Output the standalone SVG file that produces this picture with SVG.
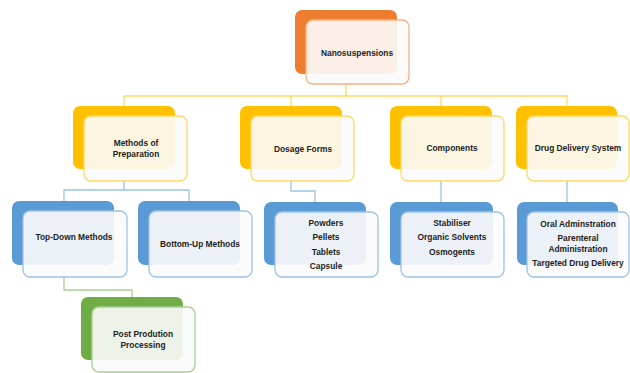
<svg xmlns="http://www.w3.org/2000/svg" width="630" height="373" viewBox="0 0 630 373">
<style>
text{font-family:"Liberation Sans",Arial,sans-serif;font-weight:bold;font-size:8.4px;fill:#1e1e1e;text-anchor:middle}
.front{fill:#fbfbfb;fill-opacity:0.9;stroke-width:1.3}
.o .back{fill:#ED7D31}.o .front{stroke:#F4B183}
.y .back{fill:#FFC000}.y .front{stroke:#FFD966}
.b .back{fill:#5B9BD5}.b .front{stroke:#9DC3E6}
.g .back{fill:#70AD47}.g .front{stroke:#A9D18E}
.c{fill:none;stroke-width:1.3}
</style>
<g id="connectors">
<path class="c" stroke="#FFD966" d="M346 84V96M124 116V96H567V116M291 96V116M441 96V116"/>
<path class="c" stroke="#9DC3E6" d="M124 181V190M64 201V190H189V201M291 181V191H315V202M441 181V202M567 181V202"/>
<path class="c" stroke="#A9D18E" d="M64 277V290H132V297"/>
</g>
<g id="nanosuspensions" class="o">
<rect class="back" x="295" y="10" width="102" height="64" rx="7"/>
<rect class="front" x="306" y="20" width="103" height="64" rx="7"/>
<text x="357" y="56">Nanosuspensions</text>
</g>
<g id="methods" class="y">
<rect class="back" x="73" y="106" width="102" height="63" rx="7"/>
<rect class="front" x="84" y="116" width="103" height="65" rx="7"/>
<text x="136" y="146">Methods of</text>
<text x="136" y="157">Preparation</text>
</g>
<g id="dosage" class="y">
<rect class="back" x="240" y="106" width="102" height="63" rx="7"/>
<rect class="front" x="251" y="116" width="103" height="65" rx="7"/>
<text x="303" y="152">Dosage Forms</text>
</g>
<g id="components" class="y">
<rect class="back" x="390" y="106" width="102" height="63" rx="7"/>
<rect class="front" x="401" y="116" width="103" height="65" rx="7"/>
<text x="452" y="151">Components</text>
</g>
<g id="dds" class="y">
<rect class="back" x="516" y="106" width="101" height="63" rx="7"/>
<rect class="front" x="527" y="116" width="102" height="65" rx="7"/>
<text x="578" y="151">Drug Delivery System</text>
</g>
<g id="topdown" class="b">
<rect class="back" x="12" y="201" width="102" height="64" rx="7"/>
<rect class="front" x="23" y="211" width="104" height="66" rx="7"/>
<text x="74" y="240">Top-Down Methods</text>
</g>
<g id="bottomup" class="b">
<rect class="back" x="138" y="201" width="102" height="64" rx="7"/>
<rect class="front" x="149" y="211" width="103" height="66" rx="7"/>
<text x="200" y="247">Bottom-Up Methods</text>
</g>
<g id="forms" class="b">
<rect class="back" x="264" y="202" width="102" height="63" rx="7"/>
<rect class="front" x="275" y="212" width="103" height="65" rx="7"/>
<text x="326" y="226">Powders</text>
<text x="326" y="240">Pellets</text>
<text x="326" y="255">Tablets</text>
<text x="326" y="269">Capsule</text>
</g>
<g id="comps" class="b">
<rect class="back" x="390" y="202" width="103" height="63" rx="7"/>
<rect class="front" x="401" y="212" width="103" height="65" rx="7"/>
<text x="452" y="226">Stabiliser</text>
<text x="452" y="240">Organic Solvents</text>
<text x="452" y="255">Osmogents</text>
</g>
<g id="routes" class="b">
<rect class="back" x="517" y="202" width="101" height="63" rx="7"/>
<rect class="front" x="527" y="212" width="102" height="65" rx="7"/>
<text x="578" y="227">Oral Adminstration</text>
<text x="578" y="241">Parenteral</text>
<text x="578" y="252">Administration</text>
<text x="578" y="266">Targeted Drug Delivery</text>
</g>
<g id="postproduction" class="g">
<rect class="back" x="81" y="297" width="102" height="63" rx="7"/>
<rect class="front" x="92" y="307" width="103" height="65" rx="7"/>
<text x="143" y="337">Post Prodution</text>
<text x="143" y="348">Processing</text>
</g>
</svg>
